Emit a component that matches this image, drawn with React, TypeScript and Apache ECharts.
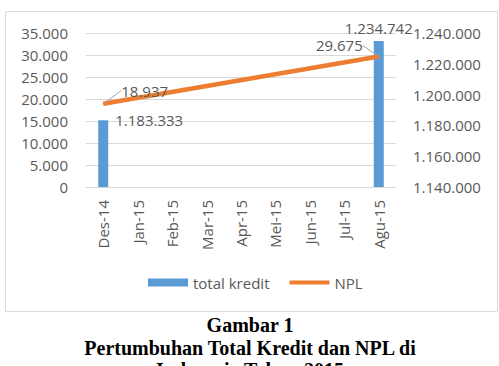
import React, { useEffect, useRef } from "react";
import * as echarts from "echarts";

const categories = ["Des-14", "Jan-15", "Feb-15", "Mar-15", "Apr-15", "Mei-15", "Jun-15", "Jul-15", "Agu-15"];
const totalKredit: (number | null)[] = [1183333, null, null, null, null, null, null, null, 1234742];
const npl: (number | null)[] = [18937, null, null, null, null, null, null, null, 29675];
const leftTicks = { min: 0, max: 35000, interval: 5000 };
const rightTicks = { min: 1140000, max: 1240000, interval: 20000 };
const captionLines = ["Gambar 1", "Pertumbuhan Total Kredit dan NPL di", "Indonesia Tahun 2015"];

const fmt = (v: number) => String(Math.round(v)).replace(/\B(?=(\d{3})+(?!\d))/g, ".");

const FONT = "'Open Sans', 'Noto Sans', sans-serif";
const GRAY = "#595959";

export default function App() {
  const ref = useRef<HTMLDivElement>(null);
  useEffect(() => {
    if (!ref.current) return;
    const chart = echarts.init(ref.current, undefined, { renderer: "svg" });
    const barData = totalKredit.map((v, i) => {
      if (v == null) return "-";
      if (i === 0)
        return {
          value: v,
          label: { show: true, position: ["100%", 0], align: "left", verticalAlign: "middle", offset: [7, 0] },
        };
      return { value: v, label: { show: true, position: "top", distance: 6 } };
    });
    const lineData = npl.map((v) => (v == null ? "-" : v));
    chart.setOption({
      animation: false,
      textStyle: { fontFamily: FONT },
      grid: { left: 86, right: 103, top: 33, bottom: 179, containLabel: false },
      xAxis: {
        type: "category",
        data: categories,
        axisLine: { show: true, lineStyle: { color: "#D9D9D9" } },
        axisTick: { show: false },
        axisLabel: { rotate: 90, margin: 13, color: GRAY, fontSize: 15, fontFamily: FONT },
      },
      yAxis: [
        {
          type: "value",
          ...leftTicks,
          axisLine: { show: false },
          axisTick: { show: false },
          splitLine: { lineStyle: { color: "#D9D9D9", width: 1 } },
          axisLabel: { margin: 18, color: GRAY, fontSize: 15, fontFamily: FONT, formatter: (v: number) => fmt(v) },
        },
        {
          type: "value",
          ...rightTicks,
          position: "right",
          axisLine: { show: false },
          axisTick: { show: false },
          splitLine: { show: false },
          axisLabel: { margin: 17, color: GRAY, fontSize: 15, fontFamily: FONT, formatter: (v: number) => fmt(v) },
        },
      ],
      legend: {
        left: 143,
        top: 270,
        itemWidth: 40,
        itemHeight: 8,
        itemGap: 18,
        textStyle: { color: GRAY, fontSize: 15, fontFamily: FONT },
        data: [
          { name: "total kredit", icon: "rect" },
          {
            name: "NPL",
            itemStyle: { color: "rgba(0,0,0,0)", borderWidth: 0, opacity: 0 },
            lineStyle: { color: "#ED7D31", width: 4 },
          },
        ],
      },
      series: [
        {
          name: "total kredit",
          type: "bar",
          yAxisIndex: 1,
          barWidth: 10,
          itemStyle: { color: "#5B9BD5" },
          label: {
            show: true,
            color: GRAY,
            fontSize: 15,
            fontFamily: FONT,
            formatter: (p: any) => fmt(p.value),
          },
          data: barData,
          z: 2,
        },
        {
          name: "NPL",
          type: "line",
          yAxisIndex: 0,
          connectNulls: true,
          symbol: "circle",
          symbolSize: 1,
          showSymbol: true,
          lineStyle: { color: "#ED7D31", width: 4.5 },
          itemStyle: { color: "#ED7D31" },
          label: {
            show: true,
            position: "top",
            color: GRAY,
            fontSize: 15,
            fontFamily: FONT,
            formatter: (p: any) => fmt(p.value),
          },
          labelLine: { show: true, lineStyle: { color: "#A6A6A6", width: 1 } },
          labelLayout: (params: any) => {
            const r = params.rect;
            const cx = r.x + r.width / 2;
            const cy = r.y + r.height / 2;
            if (params.dataIndex === 0) {
              return { x: cx + 18, y: cy - 13, align: "left", verticalAlign: "middle" };
            }
            return { x: cx - 16, y: cy - 11, align: "right", verticalAlign: "middle" };
          },
          data: lineData,
          z: 3,
        },
      ],
      graphic: [
        {
          type: "rect",
          shape: { x: 5.5, y: 11.5, width: 492, height: 300 },
          style: { fill: "none", stroke: "#D9D9D9", lineWidth: 1 },
          silent: true,
          z: -1,
        },
        ...captionLines.map((t, i) => ({
          type: "text",
          x: 250,
          y: [325, 348, 370][i],
          style: {
            text: t,
            fill: "#000",
            font: "bold 20px 'Liberation Serif', 'Times New Roman', serif",
            align: "center",
            verticalAlign: "middle",
          },
        })),
      ],
    });
    return () => chart.dispose();
  }, []);
  return <div ref={ref} style={{ position: "absolute", left: 0, top: 0, width: 499, height: 366 }} />;
}
